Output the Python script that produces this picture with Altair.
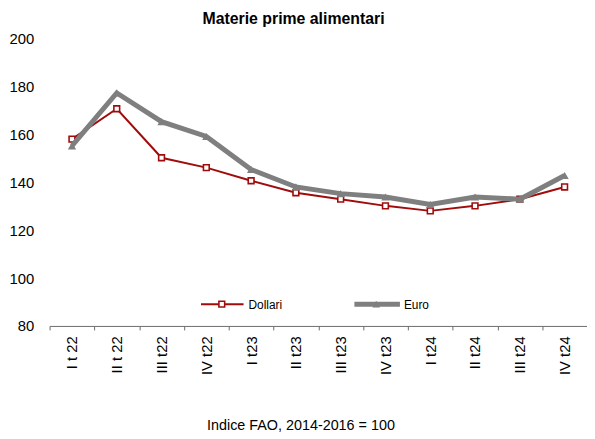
import altair as alt
import pandas as pd

categories = ["I t 22", "II t 22", "III t22", "IV t22", "I t23", "II t23",
              "III t23", "IV t23", "I t24", "II t24", "III t24", "IV t24"]
dollari = [158.1, 170.8, 150.3, 146.2, 140.7, 135.7, 133.0, 130.2, 128.1, 130.2, 133.0, 138.1]
euro = [155.3, 177.4, 165.4, 159.2, 145.4, 138.1, 135.3, 133.9, 130.8, 133.9, 133.0, 142.9]
series = ["Dollari", "Euro"]
y_ticks = [80, 100, 120, 140, 160, 180, 200]
title_text = "Materie prime alimentari"
note_text = "Indice FAO, 2014-2016 = 100"

RED = "#A00C0C"
GRAY = "#7F7F7F"
FONT = "Liberation Sans"

df = pd.DataFrame({
    "periodo": categories * 2,
    "valore": dollari + euro,
    "serie": [series[0]] * len(categories) + [series[1]] * len(categories),
})

xenc = alt.X(
    "periodo:N", sort=categories,
    scale=alt.Scale(type="band", paddingInner=0, paddingOuter=0),
    bandPosition=0.5,
    axis=alt.Axis(title=None, labelAngle=270, labelFontSize=15, labelFont=FONT,
                  labelColor="black", domainColor="#6b6b6b", tickColor="#6b6b6b",
                  tickSize=4, tickBand="extent", labelPadding=6, grid=False),
)
yenc = alt.Y(
    "valore:Q", scale=alt.Scale(domain=[80, 200], nice=False, zero=False),
    axis=alt.Axis(title=None, values=y_ticks, domain=False, ticks=False, grid=False,
                  labelFontSize=15, labelFont=FONT, labelColor="black", labelPadding=16),
)

base = alt.Chart(df).encode(x=xenc, y=yenc)

d_line = base.transform_filter(alt.datum.serie == series[0]).mark_line(color=RED, strokeWidth=2)
d_pts = base.transform_filter(alt.datum.serie == series[0]).mark_point(
    shape="square", filled=True, fill="white", stroke=RED, strokeWidth=1.6, size=34, opacity=1)
e_line = base.transform_filter(alt.datum.serie == series[1]).mark_line(color=GRAY, strokeWidth=5)
e_pts = base.transform_filter(alt.datum.serie == series[1]).mark_point(
    shape="triangle-up", filled=True, color=GRAY, size=70, opacity=1)

leg_d = pd.DataFrame({"serie": [series[0]]})
leg_e = pd.DataFrame({"serie": [series[1]]})
LY = 268
ld_rule = alt.Chart(leg_d).mark_rule(color=RED, strokeWidth=2).encode(
    x=alt.value(153), x2=alt.value(196), y=alt.value(LY))
ld_pt = alt.Chart(leg_d).mark_point(
    shape="square", filled=True, fill="white", stroke=RED, strokeWidth=1.6, size=34, opacity=1
).encode(x=alt.value(174), y=alt.value(LY))
ld_txt = alt.Chart(leg_d).mark_text(align="left", baseline="middle", fontSize=12, font=FONT,
                                    color="black").encode(
    x=alt.value(201), y=alt.value(LY + 1), text="serie:N")
le_rule = alt.Chart(leg_e).mark_rule(color=GRAY, strokeWidth=5).encode(
    x=alt.value(308), x2=alt.value(354), y=alt.value(LY))
le_pt = alt.Chart(leg_e).mark_point(shape="triangle-up", filled=True, color=GRAY, size=60,
                                    opacity=1).encode(x=alt.value(330), y=alt.value(LY))
le_txt = alt.Chart(leg_e).mark_text(align="left", baseline="middle", fontSize=12, font=FONT,
                                    color="black").encode(
    x=alt.value(358), y=alt.value(LY + 1), text="serie:N")

note = alt.Chart(pd.DataFrame({"t": [note_text]})).mark_text(
    align="center", baseline="alphabetic", fontSize=14.5, font=FONT, color="black"
).encode(x=alt.value(254), y=alt.value(395), text="t:N")

chart = alt.layer(
    d_line, d_pts, e_line, e_pts,
    ld_rule, ld_pt, ld_txt, le_rule, le_pt, le_txt, note,
).properties(
    width=543, height=290,
    title=alt.TitleParams(title_text, fontSize=16, fontWeight="bold", font=FONT,
                          anchor="middle", dx=-25, offset=5, color="black"),
    autosize=alt.AutoSizeParams(type="none"),
    padding={"left": 42, "top": 29, "right": 0, "bottom": 110},
).configure_view(stroke=None)

chart.save("out.html", embed_options={"renderer": "svg", "actions": False})
